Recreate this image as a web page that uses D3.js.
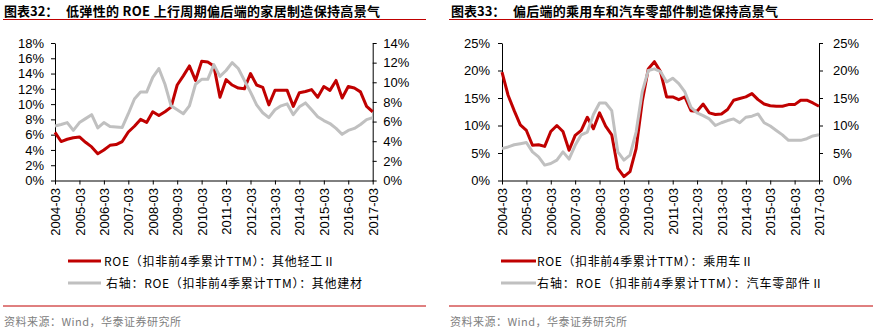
<!DOCTYPE html>
<html><head><meta charset="utf-8">
<script src="https://cdn.jsdelivr.net/npm/d3@7"></script>
<style>body{margin:0;background:#fff}svg{display:block}</style>
</head><body>
<svg id="c" width="877" height="331"></svg>
<script>
// ---------- data ----------
const yearLabels = ["2004-03","2005-03","2006-03","2007-03","2008-03","2009-03","2010-03",
  "2011-03","2012-03","2013-03","2014-03","2015-03","2016-03","2017-03"];
// quarterly observations 2004-03 ... 2017-03 (53 quarters)
const roeOtherLight = [6.3,5.1,5.4,5.6,5.7,5.0,4.4,3.5,4.0,4.6,4.7,5.1,6.35,7.1,8.0,7.6,9.0,8.5,9.0,9.6,
  12.5,13.7,15.0,13.1,15.6,15.5,15.0,10.9,13.2,12.5,12.1,12.0,14.0,12.5,12.2,9.9,11.8,11.8,11.8,9.7,
  11.5,11.65,11.9,10.9,12.3,11.8,13.1,10.8,12.3,12.1,11.6,9.7,9.0];
const roeOtherBuild = [5.55,5.7,5.9,5.1,5.9,6.3,6.7,5.35,5.9,5.5,5.45,5.4,6.8,8.3,9.0,9.0,10.5,11.4,9.8,7.6,
  7.2,6.8,7.6,9.8,10.3,10.3,11.8,10.6,11.2,12.0,11.4,10.2,9.0,7.7,6.9,6.4,7.2,7.6,7.8,6.7,
  7.5,7.9,7.2,6.5,6.1,5.8,5.3,4.7,5.1,5.3,5.7,6.2,6.4];
const roeCars = [19.7,15.5,12.7,10.1,9.1,6.4,6.5,6.2,8.9,10.0,8.9,5.5,8.2,9.1,11.5,9.4,12.3,9.9,8.3,2.2,
  0.7,1.6,5.8,14.3,20.3,21.6,19.8,15.2,15.2,14.7,15.2,12.7,12.6,13.9,12.3,12.0,12.1,12.9,14.6,14.9,
  15.2,15.8,14.7,13.9,13.6,13.5,13.5,13.8,13.8,14.6,14.6,14.1,13.5];
const roeAutoParts = [5.8,6.1,6.5,6.7,6.9,5.2,4.3,2.8,3.1,3.7,5.2,3.9,6.4,8.3,8.8,12.0,14.1,14.1,12.7,5.2,
  3.7,4.6,8.8,16.1,20.0,20.3,19.8,17.9,18.6,17.6,16.1,13.3,12.3,11.8,11.2,10.0,10.5,10.9,11.2,10.5,
  11.5,11.7,12.1,10.5,9.9,9.1,8.3,7.3,7.3,7.3,7.6,8.1,8.3];
const ticksLeftA = [0,2,4,6,8,10,12,14,16,18];
const ticksRightA = [0,2,4,6,8,10,12,14];
const ticksB = [0,5,10,15,20,25];

const RED = "#C00000", GREY = "#C0C0C0";
const svg = d3.select("#c");

function panel(o) {
  const g = svg.append("g");
  // title
  g.append("text").attr("x", o.px + 4).attr("y", 16)
    .attr("font-family", "'Noto Sans CJK SC'").attr("font-weight", "bold").attr("font-size", 13)
    .text(o.prefix);
  g.append("text").attr("x", o.titleX).attr("y", 16)
    .attr("font-family", "'Noto Sans CJK SC'").attr("font-weight", "bold").attr("font-size", 13)
    .attr("textLength", o.titleLen).attr("lengthAdjust", "spacing")
    .text(o.title);
  g.append("line").attr("x1", o.lineX1).attr("x2", o.lineX2).attr("y1", 19.5).attr("y2", 19.5)
    .attr("stroke", RED).attr("stroke-width", 1);
  g.append("line").attr("x1", o.lineX1).attr("x2", o.lineX2).attr("y1", 306).attr("y2", 306)
    .attr("stroke", RED).attr("stroke-width", 1);
  g.append("text").attr("x", o.lineX1 + 1).attr("y", 326)
    .attr("font-family", "'Noto Sans CJK SC'").attr("font-size", 11).attr("fill", "#808080")
    .attr("textLength", 177).attr("lengthAdjust", "spacing")
    .text("资料来源：Wind，华泰证券研究所");

  const x = d3.scaleLinear().domain([0, o.a.length - 1]).range([o.x0, o.x1]);
  const yL = d3.scaleLinear().domain([0, o.maxL]).range([180.5, 43]);
  const yR = d3.scaleLinear().domain([0, o.maxR]).range([180.5, 43]);

  const fmt = d => d + "%";
  const axL = g.append("g").attr("transform", `translate(${o.x0},0)`)
    .call(d3.axisLeft(yL).tickValues(o.ticksL).tickFormat(fmt).tickSize(4).tickSizeOuter(0).tickPadding(o.padL));
  const axR = g.append("g").attr("transform", `translate(${o.x1},0)`)
    .call(d3.axisRight(yR).tickValues(o.ticksR).tickFormat(fmt).tickSize(4).tickSizeOuter(0).tickPadding(o.padR));
  const xTickIdx = yearLabels.map((d, i) => i * 4);
  const axX = g.append("g").attr("transform", "translate(0,180.5)")
    .call(d3.axisBottom(x).tickValues(xTickIdx).tickFormat((d, i) => yearLabels[i]).tickSize(4).tickSizeOuter(0));
  axX.selectAll("text").attr("transform", "rotate(-90)").attr("text-anchor", "end")
    .attr("x", -7.5).attr("y", 0).attr("dy", "0.35em");
  [axL, axR, axX].forEach(a => {
    a.selectAll("text").attr("font-family", "'Liberation Sans', Arial").attr("font-size", 13).attr("fill", "#000");
    a.selectAll("path,line").attr("stroke", "#000");
  });

  const lineA = d3.line().x((d, i) => x(i)).y(d => yL(d));
  const lineB = d3.line().x((d, i) => x(i)).y(d => yR(d));
  g.append("path").datum(o.a).attr("d", lineA).attr("fill", "none").attr("stroke", RED)
    .attr("stroke-width", 3).attr("stroke-linejoin", "round");
  g.append("path").datum(o.b).attr("d", lineB).attr("fill", "none").attr("stroke", GREY)
    .attr("stroke-width", 3).attr("stroke-linejoin", "round");

  // legend
  const leg = [[RED, o.legA, 261, o.legAx, o.legALen], [GREY, o.legB, 283, o.legBx, o.legBLen]];
  leg.forEach(([c, t, y, tx, len]) => {
    g.append("line").attr("x1", o.legX1).attr("x2", o.legX2).attr("y1", y).attr("y2", y)
      .attr("stroke", c).attr("stroke-width", 3);
    g.append("text").attr("x", tx).attr("y", y + 4.5)
      .attr("font-family", "'Noto Sans CJK SC'").attr("font-size", 12).attr("fill", "#000")
      .attr("textLength", len).attr("lengthAdjust", "spacing").text(t);
  });
}

panel({
  px: 0, prefix: "图表32：", title: "低弹性的 ROE 上行周期偏后端的家居制造保持高景气",
  titleX: 66, titleLen: 314, lineX1: 3, lineX2: 426,
  x0: 55, x1: 372.7, maxL: 18, maxR: 14, ticksL: ticksLeftA, ticksR: ticksRightA,
  padL: 7, padR: 6.5, a: roeOtherLight, b: roeOtherBuild,
  legX1: 68, legX2: 101,
  legA: "ROE（扣非前4季累计TTM）：其他轻工Ⅱ", legAx: 104, legALen: 231,
  legB: "右轴：ROE（扣非前4季累计TTM）：其他建材", legBx: 106, legBLen: 256
});
panel({
  px: 447, prefix: "图表33：", title: "偏后端的乘用车和汽车零部件制造保持高景气",
  titleX: 513, titleLen: 265, lineX1: 449, lineX2: 873,
  x0: 502, x1: 819, maxL: 25, maxR: 25, ticksL: ticksB, ticksR: ticksB,
  padL: 8, padR: 10, a: roeCars, b: roeAutoParts,
  legX1: 501, legX2: 536,
  legA: "ROE（扣非前4季累计TTM）：乘用车Ⅱ", legAx: 537, legALen: 216,
  legB: "右轴：ROE（扣非前4季累计TTM）：汽车零部件Ⅱ", legBx: 537, legBLen: 286
});
</script>
</body></html>
